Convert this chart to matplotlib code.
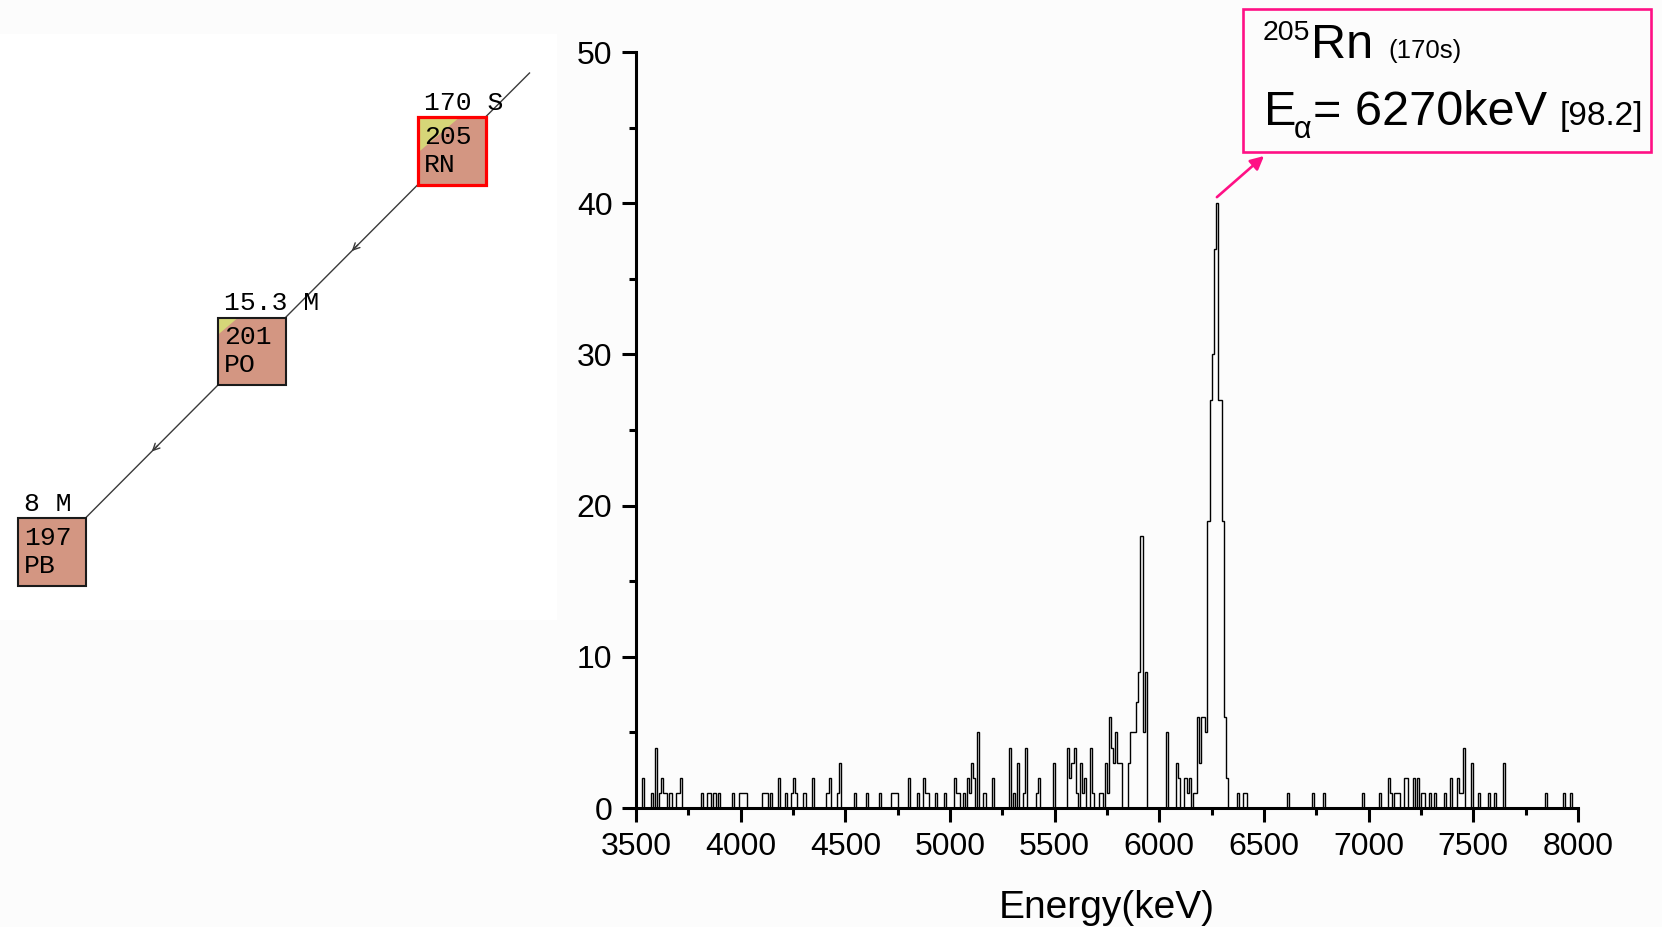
import numpy as np
import matplotlib.pyplot as plt
from matplotlib.patches import Rectangle, Polygon
from matplotlib.ticker import MultipleLocator
from matplotlib.transforms import IdentityTransform

plt.rcParams['font.family'] = ['Liberation Sans', 'DejaVu Sans']

W, H = 1662, 927

# alpha spectrum, 10 keV bins (lower edge of each non-empty bin, counts)
bin_width = 10
e_min, e_max = 3500, 8000
bin_energy = [3530, 3570, 3590, 3610, 3620, 3630, 3640, 3660, 3690, 3700, 3710,
              3810, 3840, 3850, 3870, 3890, 3960, 3990, 4000, 4010, 4020,
              4100, 4110, 4120, 4140, 4180, 4210, 4240, 4250, 4260, 4300, 4340,
              4410, 4420, 4460, 4470, 4540, 4600, 4660, 4720, 4730, 4740,
              4800, 4840, 4870, 4880, 4890, 4930, 4970,
              5020, 5030, 5040, 5060, 5080, 5090, 5100, 5110, 5130, 5160, 5200,
              5280, 5300, 5320, 5350, 5360, 5410, 5420, 5490,
              5560, 5570, 5580, 5590, 5600, 5620, 5630, 5640, 5670, 5680,
              5710, 5720, 5740, 5750, 5760, 5770, 5780, 5790, 5800, 5810,
              5850, 5860, 5870, 5880, 5890, 5900, 5910, 5920, 5930,
              6030, 6080, 6090, 6120, 6130, 6140, 6160, 6170, 6180, 6190, 6200,
              6210, 6220, 6230, 6240, 6250, 6260, 6270, 6280, 6290, 6300, 6310, 6320,
              6370, 6400, 6410, 6610, 6730, 6780, 6970, 7050,
              7090, 7100, 7120, 7130, 7140, 7170, 7180, 7210, 7230, 7250, 7260,
              7290, 7310, 7360, 7390, 7420, 7430, 7440, 7450, 7490, 7520, 7570,
              7600, 7640, 7840, 7930, 7960]
bin_counts = [2, 1, 4, 1, 2, 1, 1, 1, 1, 1, 2,
              1, 1, 1, 1, 1, 1, 1, 1, 1, 1,
              1, 1, 1, 1, 2, 1, 1, 2, 1, 1, 2,
              1, 2, 1, 3, 1, 1, 1, 1, 1, 1,
              2, 1, 2, 1, 1, 1, 1,
              2, 1, 1, 1, 2, 1, 3, 2, 5, 1, 2,
              4, 1, 3, 1, 4, 1, 2, 3,
              4, 2, 3, 4, 1, 3, 1, 2, 4, 1,
              1, 1, 3, 1, 6, 4, 3, 5, 3, 3,
              3, 5, 5, 5, 7, 9, 18, 5, 9,
              5, 3, 2, 2, 1, 2, 1, 1, 6, 3, 6,
              6, 5, 19, 27, 30, 37, 40, 27, 27, 19, 6, 2,
              1, 1, 1, 1, 1, 1, 1, 1,
              2, 1, 1, 1, 1, 2, 2, 2, 2, 1, 1,
              1, 1, 1, 2, 2, 1, 1, 4, 3, 1, 1,
              1, 3, 1, 1, 1]

# decay chain 205Rn -> 201Po -> 197Pb
chain_mass = ['205', '201', '197']
chain_symbol = ['RN', 'PO', 'PB']
chain_halflife = ['170 S', '15.3 M', '8 M']
chain_yellow = [0.62, 0.3, 0.0]

# annotation of the main line
peak_mass = '205'
peak_element = 'Rn'
peak_halflife = '(170s)'
peak_energy = 6270
peak_intensity = '[98.2]'

edges = np.arange(e_min, e_max + bin_width, bin_width)
counts = np.zeros(len(edges) - 1)
counts[(np.array(bin_energy) - e_min) // bin_width] = bin_counts

fig = plt.figure(figsize=(W / 100, H / 100), dpi=100, facecolor='#fcfcfc')

# ---- spectrum ----
ax = fig.add_axes([636 / W, (H - 808) / H, 942 / W, 756 / H])
ax.patch.set_alpha(0)
ax.stairs(counts, edges, color='black', lw=1.0, zorder=3)
ax.set_xlim(e_min, e_max)
ax.set_ylim(0, 50)
for s in ['top', 'right']:
    ax.spines[s].set_visible(False)
for s in ['left', 'bottom']:
    ax.spines[s].set_linewidth(2.2)
ax.xaxis.set_major_locator(MultipleLocator(500))
ax.xaxis.set_minor_locator(MultipleLocator(250))
ax.yaxis.set_major_locator(MultipleLocator(10))
ax.yaxis.set_minor_locator(MultipleLocator(5))
ax.tick_params(which='major', length=10, width=2.2, labelsize=23, pad=7)
ax.tick_params(which='minor', length=5, width=2.2)
ax.set_xlabel('Energy(keV)', fontsize=28)
ax.set_ylabel('Counts', fontsize=28)
ax.xaxis.set_label_coords(0.5, -0.108)
ax.yaxis.set_label_coords(-0.107, 0.525)

# ---- label box for the 6270 keV line ----
pink = '#ff1085'
px = IdentityTransform()
fig.patches.append(Rectangle((1243, H - 152), 408, 143.5, transform=px,
                             fill=False, ec=pink, lw=1.9))
fig.text(1263, H - 40, peak_mass, transform=px, fontsize=20.5, va='baseline')
fig.text(1311, H - 58, peak_element, transform=px, fontsize=35, va='baseline')
fig.text(1388, H - 58, peak_halflife, transform=px, fontsize=18.5, va='baseline')
fig.text(1264, H - 125, 'E', transform=px, fontsize=35, va='baseline')
fig.text(1294, H - 138, 'α', transform=px, fontsize=22, va='baseline')
fig.text(1313, H - 125, '= %dkeV' % peak_energy, transform=px, fontsize=35,
         va='baseline')
fig.text(1560, H - 125, peak_intensity, transform=px, fontsize=24, va='baseline')

ipk = int(np.argmax(counts))
ax.annotate('', xy=(1264, H - 156), xycoords='figure pixels',
            xytext=(edges[ipk] + bin_width / 2, counts[ipk] + 0.4),
            textcoords='data', annotation_clip=False,
            arrowprops=dict(arrowstyle='-|>', color=pink, lw=1.9,
                            mutation_scale=20, shrinkA=0, shrinkB=0))

# ---- decay chain panel ----
axc = fig.add_axes([0, (H - 620) / H, 557 / W, 586 / H])
axc.set_facecolor('white')
for s in axc.spines.values():
    s.set_visible(False)
axc.set_xticks([])
axc.set_yticks([])
axc.set_xlim(0, 557)
axc.set_ylim(620, 34)

box = 67.5
step_x, step_y = -200, 200.5
x_first, y_first = 418, 117
line_col = '#3a3a3a'

# line coming in from the parent above
axc.plot([x_first + box, x_first + box + 44], [y_first, y_first - 44],
         color=line_col, lw=1, zorder=1)

for i in range(len(chain_mass)):
    x0 = x_first + step_x * i
    y0 = y_first + step_y * i
    if i + 1 < len(chain_mass):
        xa, ya = x0, y0 + box
        xb, yb = x0 + step_x + box, y0 + step_y
        axc.plot([xa, xb], [ya, yb], color=line_col, lw=1, zorder=1)
        xm, ym = (xa + xb) / 2, (ya + yb) / 2
        axc.annotate('', xy=(xm, ym), xytext=(xm + 6, ym - 6),
                     arrowprops=dict(arrowstyle='->', color=line_col, lw=1,
                                     mutation_scale=12, shrinkA=0, shrinkB=0))
    axc.add_patch(Rectangle((x0, y0), box, box, fc='#d39682', ec='none', zorder=2))
    f = chain_yellow[i]
    if f > 0:
        axc.add_patch(Polygon([(x0, y0), (x0 + f * box, y0), (x0, y0 + 0.85 * f * box)],
                              fc='#d6d678', ec='none', zorder=3))
    if i == 0:
        axc.add_patch(Rectangle((x0, y0), box, box, fill=False, ec='#ff0000',
                                lw=2.3, zorder=4))
    else:
        axc.add_patch(Rectangle((x0, y0), box, box, fill=False, ec='#1a1a1a',
                                lw=1.5, zorder=4))
    mono = dict(family='Liberation Mono', fontsize=19, va='baseline', zorder=5)
    axc.text(x0 + 6, y0 + 27, chain_mass[i], **mono)
    axc.text(x0 + 6, y0 + 55, chain_symbol[i], **mono)
    axc.text(x0 + 6, y0 - 7, chain_halflife[i], **mono)

fig.savefig('out.png', dpi=100, facecolor=fig.get_facecolor())
